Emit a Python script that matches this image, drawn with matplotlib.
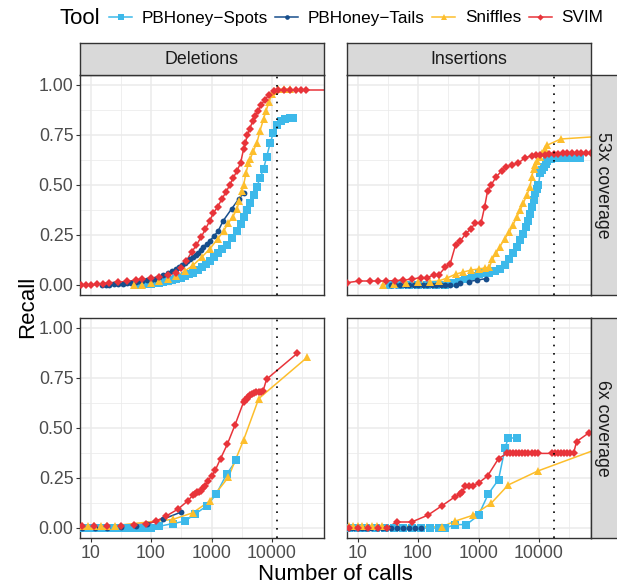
import matplotlib
matplotlib.use("Agg")
import matplotlib.pyplot as plt
from matplotlib.lines import Line2D

plt.rcParams['font.family'] = ['Liberation Sans', 'DejaVu Sans']

tools = ['PBHoney\u2212Spots', 'PBHoney\u2212Tails', 'Sniffles', 'SVIM']
colors = ['#3DB9EA', '#174E8C', '#FDBE2C', '#E8343A']
markers = ['s', 'o', '^', 'D']
msizes = [5.2, 4.2, 5.2, 4.0]

svtypes = ['Deletions', 'Insertions']
coverages = ['53x coverage', '6x coverage']
truth_calls = [12100, 18000]   # dotted lines (size of truth set)

# ---- Deletions, 53x ----
del53_spots_x = [56, 66, 79, 90, 100, 115, 138, 160, 190, 225, 263, 310, 363, 430, 501, 590, 692, 800, 933, 1090,
                 1260, 1500, 1780, 2190, 2630, 3020, 3390, 3800, 4370, 5010, 5620, 6310, 7240, 8130, 9330, 10500,
                 12000, 14100, 16600, 20000, 22400]
del53_spots_y = [0, .001, .003, .004, .005, .008, .011, .014, .018, .023, .028, .036, .045, .053, .062, .075, .09, .104,
                 .12, .14, .16, .18, .2, .235, .27, .305, .34, .375, .41, .45, .49, .535, .58, .64, .71, .76, .8, .82,
                 .83, .835, .835]
del53_tails_x = [15.5, 18, 20, 24, 28, 34, 40, 47, 56, 64, 72, 85, 100, 117, 138, 160, 190, 225, 263, 295, 331, 365,
                 398, 445, 490, 545, 603, 660, 724, 830, 933, 1100, 1290, 1550, 2140, 2820, 3390]
del53_tails_y = [0, .001, .002, .003, .005, .007, .01, .012, .015, .018, .02, .023, .026, .032, .04, .048, .058, .068,
                 .08, .09, .1, .11, .118, .128, .138, .15, .16, .175, .19, .205, .22, .245, .27, .32, .38, .43, .46]
del53_snf_x = [52, 71, 100, 138, 190, 263, 363, 501, 692, 933, 1260, 1580, 1900, 2240, 2630, 2880, 3160, 3390, 3720,
               4070, 4370, 4900, 5620, 6310, 7240, 7940, 8910, 10000, 10700, 12600, 15800, 19500]
del53_snf_y = [0, .002, .008, .02, .03, .045, .07, .1, .14, .18, .23, .27, .31, .34, .38, .42, .47, .5, .56, .61, .63,
               .67, .71, .77, .83, .87, .915, .955, .972, .978, .98, .98]
del53_svim_x = [7, 8.5, 10, 12.6, 16, 20, 28, 40, 56, 72, 100, 138, 190, 263, 316, 380, 468, 562, 676, 794, 933, 1070,
                1260, 1480, 1740, 2000, 2290, 2630, 3020, 3390, 3630, 3890, 4270, 4790, 5250, 5890, 6610, 7590, 8910,
                10700, 12600, 15800, 20000, 25100, 30200, 36300, 100000]
del53_svim_y = [0, 0, 0, .003, .006, .011, .014, .018, .024, .028, .034, .04, .05, .062, .085, .12, .163, .2, .24, .28,
                .32, .36, .39, .43, .465, .5, .536, .57, .61, .68, .71, .75, .78, .82, .845, .87, .9, .926, .95, .97,
                .974, .975, .975, .975, .975, .975, .975]

# ---- Insertions, 53x ----
ins53_spots_x = [34, 50, 71, 100, 141, 200, 282, 363, 468, 603, 794, 1000, 1260, 1510, 1860, 2240, 2690, 3240, 3720,
                 4270, 4900, 5500, 6030, 6610, 7080, 7590, 8130, 8710, 9330, 9770, 10500, 11200, 12000, 12900, 13800,
                 15500, 17400, 21400, 25700, 31600, 39800, 47900]
ins53_spots_y = [0, 0, 0, 0, 0, 0, .002, .01, .02, .03, .045, .054, .058, .062, .07, .08, .1, .13, .16, .19, .225, .257,
                 .29, .32, .355, .39, .425, .46, .48, .5, .56, .575, .59, .605, .62, .63, .637, .637, .637, .637, .637,
                 .637]
ins53_tails_x = [36, 42, 50, 60, 71, 85, 100, 120, 141, 170, 200, 240, 282, 340, 417, 501, 692, 955, 1350]
ins53_tails_y = [0, 0, 0, 0, 0, 0, 0, 0, 0, 0, 0, 0, 0, 0, .002, .012, .017, .025, .032]
ins53_snf_x = [26, 40, 63, 100, 158, 219, 302, 417, 562, 759, 1000, 1260, 1510, 1700, 1950, 2240, 2690, 3240, 3720,
               4270, 4900, 5500, 6310, 7080, 7590, 8130, 8710, 9330, 10200, 11200, 12600, 13800, 22900, 126000]
ins53_snf_y = [0, .005, .01, .013, .017, .02, .035, .054, .065, .075, .08, .085, .088, .13, .16, .19, .23, .265, .3,
               .34, .375, .41, .45, .49, .54, .58, .6, .62, .64, .66, .68, .7, .73, .745]
ins53_svim_x = [6.8, 10.7, 15.8, 21.9, 30, 41.7, 57.5, 79, 110, 141, 182, 219, 282, 339, 417, 501, 617, 741, 891, 1100,
                1260, 1410, 1620, 1950, 2400, 2880, 3550, 4570, 5890, 7590, 8910, 10500, 12600, 14800, 17400, 20900,
                25100, 29500, 35500, 41700, 50100, 60300, 72400]
ins53_svim_y = [.012, .02, .02, .02, .02, .022, .025, .029, .037, .037, .05, .05, .088, .105, .2, .22, .257, .28, .31,
                .31, .39, .47, .5, .54, .57, .59, .6, .61, .637, .645, .648, .649, .652, .653, .654, .657, .66, .66, .66,
                .66, .66, .66, .66]

# ---- Deletions, 6x ----
del6_spots_x = [7.2, 9, 11.5, 15, 19, 25, 32, 40, 52, 65, 83, 100, 138, 229, 363, 525, 832, 1200, 1780, 2570]
del6_spots_y = [0, 0, 0, 0, 0, 0, 0, 0, 0, 0, 0, 0, .009, .022, .034, .068, .11, .17, .27, .338]
del6_tails_x = [7.2, 12, 19, 32, 56, 87, 155, 316]
del6_tails_y = [0, 0, 0, .004, .009, .021, .043, .08]
del6_snf_x = [7.2, 9, 11.5, 15, 19, 25, 229, 490, 933, 1900, 3390, 6030, 38000]
del6_snf_y = [.012, .012, .012, .012, .012, .012, .043, .076, .135, .254, .44, .647, .853]
del6_svim_x = [7.2, 11.5, 19, 31.6, 52, 83, 120, 178, 275, 407, 490, 530, 575, 620, 660, 720, 776, 871, 1000, 1150,
               1410, 1820, 2450, 3390, 3550, 3800, 4070, 4370, 4680, 5130, 5500, 6030, 6610, 7080, 8130, 26300]
del6_svim_y = [.009, .009, .009, .009, .014, .021, .034, .06, .093, .136, .164, .17, .178, .182, .186, .198, .212, .237,
               .259, .288, .347, .418, .516, .63, .638, .647, .656, .664, .67, .676, .679, .681, .682, .683, .744, .874]

# ---- Insertions, 6x ----
ins6_spots_x = [7.1, 10, 14, 20, 28, 40, 56, 79, 112, 158, 224, 282, 407, 631, 1000, 1450, 2140, 2750, 3090, 4370]
ins6_spots_y = [0, 0, 0, 0, 0, 0, 0, 0, 0, 0, 0, 0, .017, .017, .064, .17, .242, .4, .45, .45]
ins6_tails_x = [7.1, 8.3, 10, 12, 14, 17, 21, 25, 30, 36, 45, 56, 72, 88, 112]
ins6_tails_y = [0, 0, 0, 0, 0, 0, 0, 0, 0, 0, 0, 0, 0, 0, 0]
ins6_snf_x = [7.1, 8.5, 10, 12, 14.5, 17.5, 21, 25, 245, 407, 813, 1620, 3090, 9550, 126000]
ins6_snf_y = [.012, .012, .012, .012, .012, .012, .012, .012, .005, .034, .064, .124, .215, .285, .41]
ins6_svim_x = [7.1, 10.2, 15.1, 21.9, 30.2, 44.7, 78.5, 145, 245, 407, 490, 537, 603, 692, 813, 1000, 1410, 2140,
               2950, 3310, 3720, 4170, 4680, 5250, 5890, 6610, 7590, 8510, 9770, 16200, 18200, 20400, 22900, 25700,
               28800, 32400, 37200, 41700, 66100]
ins6_svim_y = [0, 0, 0, 0, 0, .03, .03, .064, .11, .156, .17, .178, .208, .212, .212, .225, .26, .347, .373, .373, .373,
               .373, .373, .373, .373, .373, .373, .373, .373, .373, .373, .373, .373, .373, .373, .373, .373, .432,
               .475]

panels = {
    (0, 0): [(del53_spots_x, del53_spots_y), (del53_tails_x, del53_tails_y),
             (del53_snf_x, del53_snf_y), (del53_svim_x, del53_svim_y)],
    (0, 1): [(ins53_spots_x, ins53_spots_y), (ins53_tails_x, ins53_tails_y),
             (ins53_snf_x, ins53_snf_y), (ins53_svim_x, ins53_svim_y)],
    (1, 0): [(del6_spots_x, del6_spots_y), (del6_tails_x, del6_tails_y),
             (del6_snf_x, del6_snf_y), (del6_svim_x, del6_svim_y)],
    (1, 1): [(ins6_spots_x, ins6_spots_y), (ins6_tails_x, ins6_tails_y),
             (ins6_snf_x, ins6_snf_y), (ins6_svim_x, ins6_svim_y)],
}

W, H = 617, 588
fig = plt.figure(figsize=(W / 100, H / 100), dpi=100)


def px_axes(x0, y0, x1, y1):
    return fig.add_axes([x0 / W, 1 - y1 / H, (x1 - x0) / W, (y1 - y0) / H])


cols = [(80, 324), (347, 591)]
rows = [(75, 295), (318, 538)]
border = '#333333'

for (r, c), series in panels.items():
    ax = px_axes(cols[c][0], rows[r][0], cols[c][1], rows[r][1])
    ax.set_xscale('log')
    ax.set_xlim(6.7, 72300)
    ax.set_ylim(-0.05, 1.05)
    ax.set_xticks([10, 100, 1000, 10000])
    ax.set_xticklabels(['10', '100', '1000', '10000'])
    ax.set_xticks([10 ** 1.5, 10 ** 2.5, 10 ** 3.5, 10 ** 4.5], minor=True)
    ax.set_xticklabels([], minor=True)
    ax.set_yticks([0, .25, .5, .75, 1])
    ax.set_yticklabels(['0.00', '0.25', '0.50', '0.75', '1.00'])
    ax.set_yticks([.125, .375, .625, .875], minor=True)
    ax.grid(which='major', color='#EBEBEB', lw=1.1)
    ax.grid(which='minor', color='#EBEBEB', lw=0.55)
    ax.set_axisbelow(True)
    for s in ax.spines.values():
        s.set_color(border)
        s.set_linewidth(1.0)
    ax.tick_params(which='major', length=2.75, width=0.8, color=border, labelsize=12.8,
                   labelcolor='#4D4D4D', pad=2)
    ax.tick_params(which='minor', length=0)
    ax.tick_params(bottom=(r == 1), labelbottom=(r == 1), left=(c == 0), labelleft=(c == 0))

    for i, (xs, ys) in enumerate(series):
        ax.plot(xs, ys, color=colors[i], lw=1.1, zorder=2 + i * 0.01)
    for i, (xs, ys) in enumerate(series):
        ax.plot(xs, ys, ls='none', marker=markers[i], ms=msizes[i], color=colors[i],
                markeredgewidth=0, zorder=3 + i * 0.01)
    ax.axvline(truth_calls[c], color='black', lw=1.2, ls=(0, (1, 4)), zorder=4)

# strips
for c in range(2):
    sax = px_axes(cols[c][0], 43, cols[c][1], 75)
    sax.set_facecolor('#D9D9D9')
    sax.set_xticks([])
    sax.set_yticks([])
    for s in sax.spines.values():
        s.set_color(border)
        s.set_linewidth(1.0)
    sax.text(0.5, 0.5, svtypes[c], ha='center', va='center', fontsize=12.8, color='#1A1A1A',
             transform=sax.transAxes)
for r in range(2):
    sax = px_axes(591, rows[r][0], 623, rows[r][1])
    sax.set_facecolor('#D9D9D9')
    sax.set_xticks([])
    sax.set_yticks([])
    for s in sax.spines.values():
        s.set_color(border)
        s.set_linewidth(1.0)
    sax.text(12 / 32, 0.5, coverages[r], ha='center', va='center', fontsize=12.8, color='#1A1A1A',
             rotation=-90, transform=sax.transAxes)

# axis titles
fig.text(335.5 / W, 1 - 574 / H, 'Number of calls', ha='center', va='center', fontsize=16)
fig.text(28 / W, 1 - 306.5 / H, 'Recall', ha='center', va='center', fontsize=16, rotation=90)

# legend
fig.text(59 / W, 1 - 18 / H, 'Tool', ha='left', va='center', fontsize=16)
handles = [Line2D([], [], color=colors[i], lw=1.1, marker=markers[i], ms=msizes[i] * 0.8, markeredgewidth=0)
           for i in range(4)]
fig.legend(handles, tools, loc='center left', bbox_to_anchor=(109 / W, 1 - 18 / H), ncol=4, frameon=False,
           fontsize=12.3, handlelength=1.35, handletextpad=0.55, columnspacing=0.45, borderpad=0,
           borderaxespad=0)

fig.savefig('out.png', dpi=100)
